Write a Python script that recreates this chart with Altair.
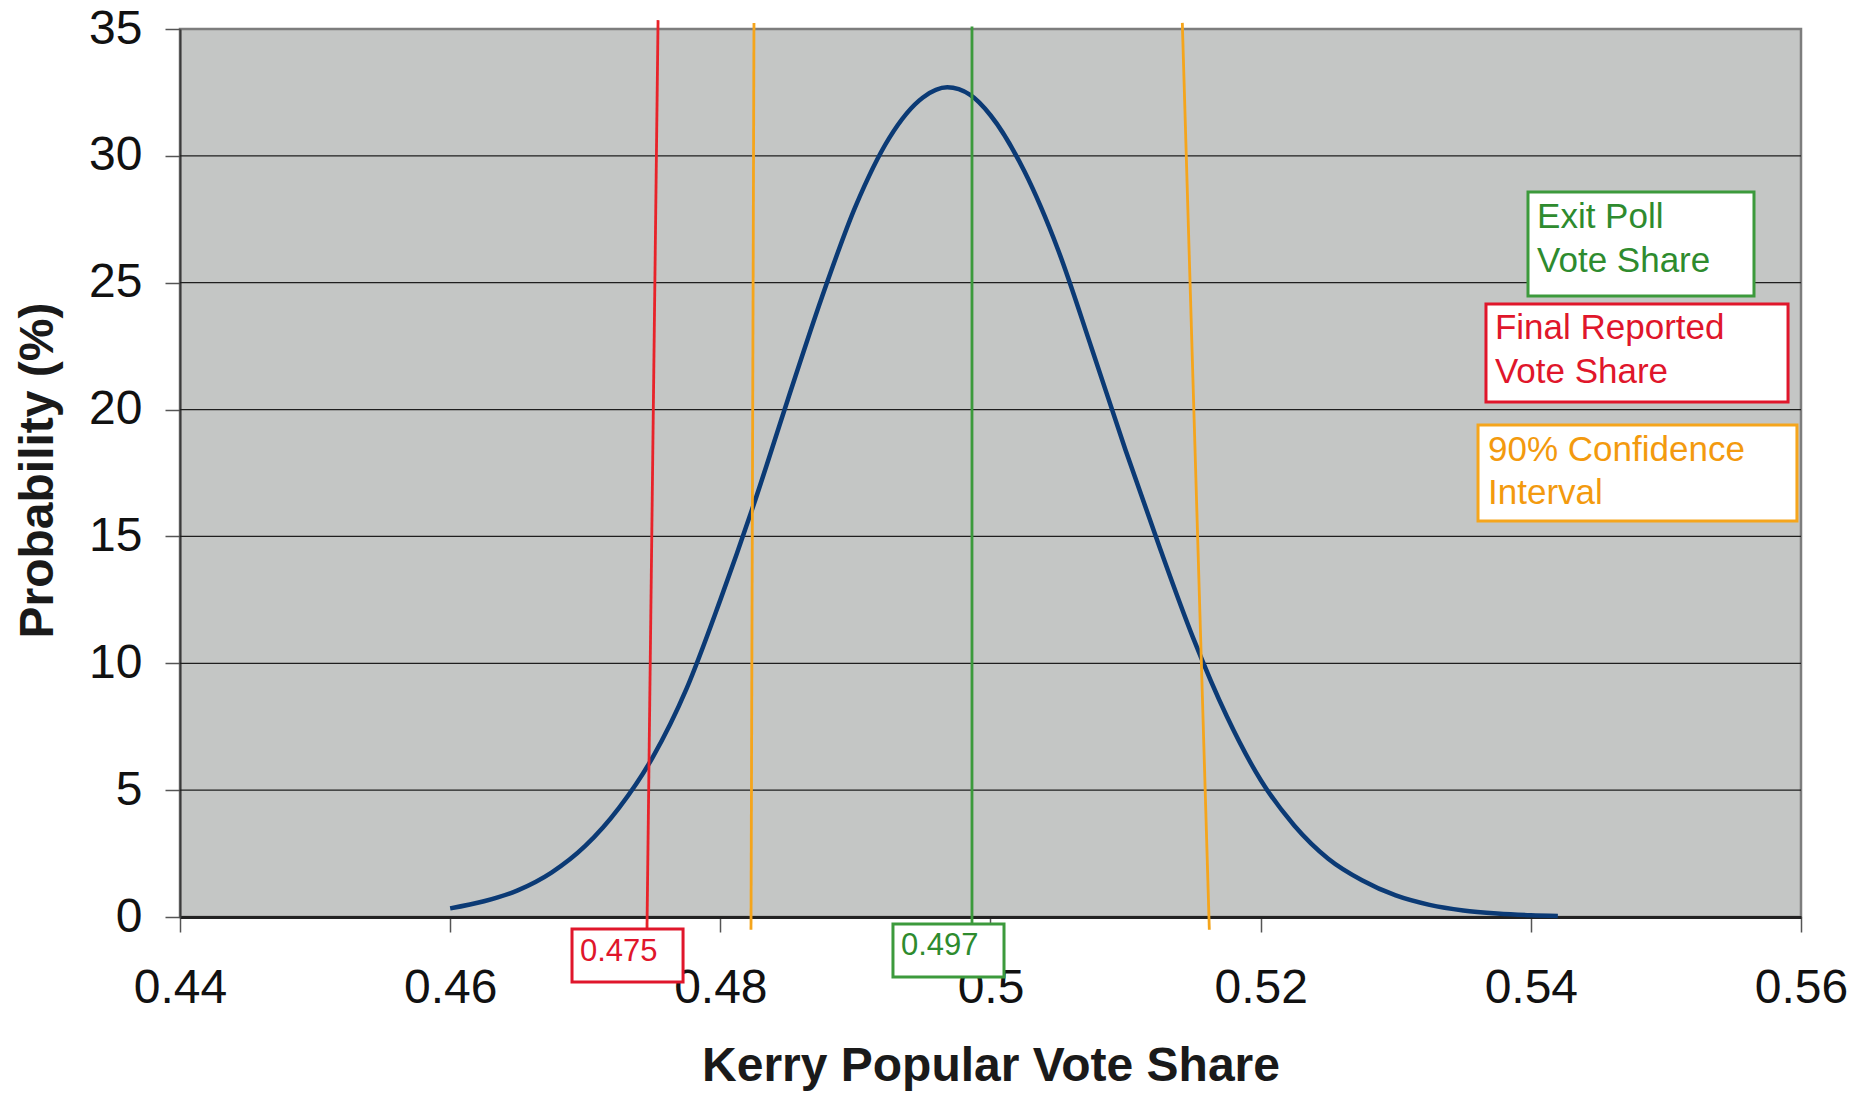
import altair as alt
import pandas as pd

# ---- curve ----
curve_x = [0.4600, 0.4625, 0.4650, 0.4675, 0.4700, 0.4725, 0.4750, 0.4775, 0.4800,
           0.4825, 0.4850, 0.4875, 0.4900, 0.4925, 0.4950, 0.4968, 0.4985, 0.5000,
           0.5025, 0.5050, 0.5075, 0.5100, 0.5125, 0.5150, 0.5175, 0.5200, 0.5225,
           0.5250, 0.5275, 0.5300, 0.5325, 0.5350, 0.5375, 0.5400, 0.5420]
curve_y = [0.34, 0.62, 1.05, 1.75, 2.8, 4.3, 6.3, 9.0, 12.5,
           16.3, 20.4, 24.4, 28.0, 30.7, 32.3, 32.7, 32.4, 31.6,
           29.4, 26.3, 22.4, 18.4, 14.6, 11.0, 7.9, 5.4, 3.6,
           2.3, 1.45, 0.85, 0.48, 0.26, 0.14, 0.07, 0.04]

x_ticks = [0.44, 0.46, 0.48, 0.50, 0.52, 0.54, 0.56]
y_ticks = [0, 5, 10, 15, 20, 25, 30, 35]
grid_y = [5, 10, 15, 20, 25, 30]

# ---- vertical marker lines ----
marker_name = ["Final Reported", "CI low", "Exit Poll", "CI high"]
marker_x_bottom = [0.47457, 0.48227, 0.49863, 0.5162]
marker_x_top = [0.47539, 0.48249, 0.49863, 0.5142]
marker_y_bottom = [-0.47, -0.5, -0.28, -0.5]
marker_y_top = [35.35, 35.24, 35.1, 35.24]
marker_color = ["#e8232a", "#f5a51c", "#3c9a3c", "#f5a51c"]

# ---- annotation boxes ----
box_name = ["Exit Poll", "Final Reported", "Confidence", "val 0.475", "val 0.497"]
box_x = [0.53979, 0.53668, 0.53609, 0.46902, 0.49278]
box_x2 = [0.55652, 0.55904, 0.55970, 0.47724, 0.50100]
box_y = [28.58, 24.16, 19.39, -0.473, -0.276]
box_y2 = [24.48, 20.30, 15.61, -2.562, -2.365]
box_color = ["#3c9a3c", "#e0162b", "#f5a51c", "#e0162b", "#3c9a3c"]

# ---- annotation texts ----
text_label = ["Exit Poll", "Vote Share", "Final Reported", "Vote Share",
              "90% Confidence", "Interval", "0.475", "0.497"]
text_x = [0.54046, 0.54046, 0.53734, 0.53734, 0.53683, 0.53683, 0.46961, 0.49337]
text_y = [27.16, 25.42, 22.78, 21.05, 17.97, 16.28, -1.734, -1.498]
text_color = ["#2e8b2e", "#2e8b2e", "#e0162b", "#e0162b", "#f39a0e", "#f39a0e",
              "#e0162b", "#2e8b2e"]
text_size = [35, 35, 35, 35, 35, 35, 31, 31]

FONT = "Liberation Sans, Arial, Helvetica, sans-serif"

curve_df = pd.DataFrame({"x": curve_x, "y": curve_y})
grid_df = pd.DataFrame({"y": grid_y})
marker_df = pd.DataFrame({"name": marker_name, "xb": marker_x_bottom, "xt": marker_x_top,
                          "yb": marker_y_bottom, "yt": marker_y_top, "color": marker_color})
box_df = pd.DataFrame({"name": box_name, "x": box_x, "x2": box_x2, "y": box_y,
                       "y2": box_y2, "color": box_color})
text_df = pd.DataFrame({"label": text_label, "x": text_x, "y": text_y,
                        "color": text_color, "size": text_size})

xscale = alt.Scale(domain=[0.44, 0.56], nice=False, zero=False)
yscale = alt.Scale(domain=[0, 35], nice=False, zero=False)

xaxis = alt.Axis(values=x_ticks, format=".2~f", title="Kerry Popular Vote Share",
                 grid=False, labelFlush=False, labelOverlap=False,
                 tickSize=15, tickWidth=1.5, tickColor="#555555",
                 labelPadding=32, labelFontSize=48, labelColor="#111111",
                 labelFont=FONT, titleFont=FONT, titleFontSize=48, titleFontWeight="bold",
                 titleColor="#1a1a1a", titleBaseline="alphabetic", titleY=163,
                 domainColor="#222222", domainWidth=3)
yaxis = alt.Axis(values=y_ticks, format="d", title="Probability (%)",
                 grid=False, labelOverlap=False, labelFlush=False,
                 tickSize=15, tickWidth=1.5, tickColor="#555555",
                 labelPadding=23, labelFontSize=48, labelColor="#111111",
                 labelFont=FONT, titleFont=FONT, titleFontSize=48, titleFontWeight="bold",
                 titleColor="#1a1a1a", titleBaseline="alphabetic", titleAngle=270,
                 titleX=-128, titleY=441, titleAlign="center",
                 domainColor="#3a3a3a", domainWidth=2)

grid = alt.Chart(grid_df).mark_rule(color="#1e1e1e", strokeWidth=1.3).encode(
    y=alt.Y("y:Q", scale=yscale, axis=yaxis)
)

curve = alt.Chart(curve_df).mark_line(color="#0b3a75", strokeWidth=4.5,
                                      interpolate="monotone").encode(
    x=alt.X("x:Q", scale=xscale, axis=xaxis),
    y=alt.Y("y:Q", scale=yscale, axis=yaxis),
)

markers = alt.Chart(marker_df).mark_rule(strokeWidth=2.8).encode(
    x=alt.X("xb:Q", scale=xscale),
    x2="xt:Q",
    y=alt.Y("yb:Q", scale=yscale),
    y2="yt:Q",
    color=alt.Color("color:N", scale=None),
)

boxes = alt.Chart(box_df).mark_rect(fill="white", strokeWidth=3).encode(
    x=alt.X("x:Q", scale=xscale),
    x2="x2:Q",
    y=alt.Y("y:Q", scale=yscale),
    y2="y2:Q",
    stroke=alt.Color("color:N", scale=None),
)

texts = alt.Chart(text_df).mark_text(align="left", baseline="alphabetic", font=FONT).encode(
    x=alt.X("x:Q", scale=xscale),
    y=alt.Y("y:Q", scale=yscale),
    text="label:N",
    color=alt.Color("color:N", scale=None),
    size=alt.Size("size:Q", scale=None),
)

chart = alt.layer(grid, curve, markers, boxes, texts).properties(
    width=1621,
    height=888,
    autosize=alt.AutoSizeParams(type="none"),
    padding={"left": 172, "top": 21, "right": 63, "bottom": 175},
    background="white",
).configure_view(
    fill="#c4c6c5", stroke="#7d7d7d", strokeWidth=2.5
)

chart.save("out.html", embed_options={"renderer": "svg", "actions": False})
